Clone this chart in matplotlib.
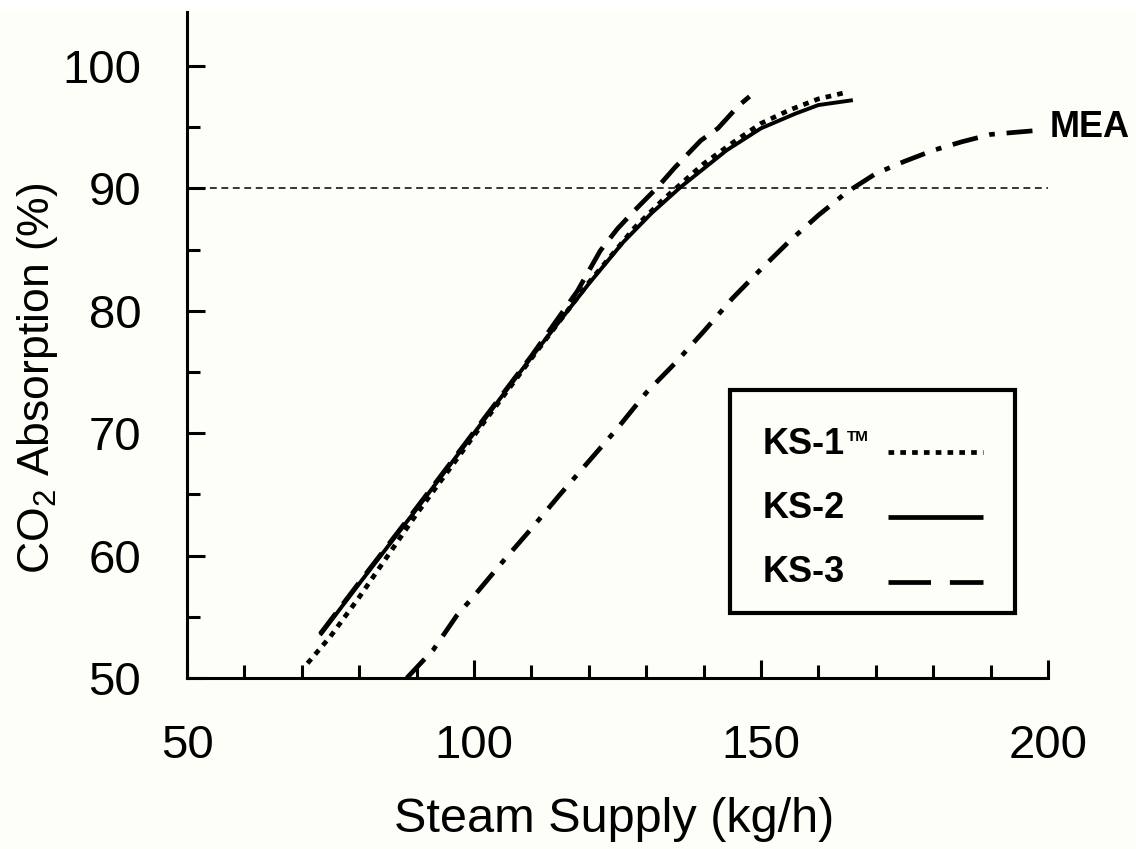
import matplotlib
matplotlib.use('Agg')
import matplotlib.pyplot as plt
from matplotlib.patches import Rectangle
from matplotlib.ticker import MultipleLocator

plt.rcParams['font.family'] = ['Liberation Sans', 'DejaVu Sans']
plt.rcParams['mathtext.fontset'] = 'custom'
plt.rcParams['mathtext.rm'] = 'Liberation Sans'
plt.rcParams['mathtext.default'] = 'regular'

ks1_x = [71, 75, 80, 85, 90, 100, 110, 120, 128, 133, 140, 145, 150, 155, 160, 164.5]
ks1_y = [51.2, 53.4, 56.6, 60.0, 63.4, 69.8, 76.1, 82.3, 86.8, 89.1, 92.0, 93.7, 95.3, 96.4, 97.3, 97.8]

ks2_x = [73.2, 80, 90, 100, 110, 120, 126, 131, 136, 140, 144, 150, 156, 160, 166]
ks2_y = [53.5, 57.7, 63.8, 70.0, 76.2, 82.2, 85.6, 88.0, 90.1, 91.6, 93.1, 94.9, 96.1, 96.8, 97.2]

ks3_x = [73.2, 80, 90, 100, 110, 118, 122, 125, 128, 132, 135, 139.5, 142.5, 146, 148]
ks3_y = [53.6, 57.8, 63.9, 70.1, 76.3, 81.6, 84.9, 86.7, 88.2, 90.1, 91.7, 93.9, 94.9, 96.7, 97.5]

mea_x = [88.3, 92.9, 97, 100, 105, 110, 115, 120, 125, 130, 135, 140, 145, 150, 155, 160,
         165, 170, 175, 180, 185, 190, 197.5]
mea_y = [50.0, 52.3, 55.1, 56.7, 59.5, 62.2, 65.0, 67.7, 70.4, 73.3, 75.7, 78.3, 81.0, 83.4,
         85.7, 87.8, 89.7, 91.2, 92.2, 93.1, 93.8, 94.4, 94.7]

target = 90
series_names = ['KS-1', 'KS-2', 'KS-3']
mea_name = 'MEA'
xticks = [50, 100, 150, 200]
yticks = [50, 60, 70, 80, 90, 100]

cream = '#fdfef8'
fig = plt.figure(figsize=(11.36, 8.49), dpi=100, facecolor='white')
fig.patches.append(Rectangle((0, 0), 1, 837 / 849, transform=fig.transFigure,
                             color=cream, zorder=-10))
ax = fig.add_axes([187 / 1136, 171 / 849, 861 / 1136, 666 / 849])
ax.set_facecolor(cream)

lw = 3.4
ax.axhline(target, color='black', lw=1.1, dashes=(4.5, 3))
ax.plot(ks1_x, ks1_y, color='black', lw=lw, dashes=(1.2, 1.3))
ax.plot(ks2_x, ks2_y, color='black', lw=2.8, solid_capstyle='butt')
ax.plot(ks3_x, ks3_y, color='black', lw=lw, dashes=(5.5, 2.5))
ax.plot(mea_x, mea_y, color='black', lw=lw, dashes=(5.5, 2.5, 1.2, 2.5))
ax.text(200.3, 95.0, mea_name, fontsize=26, fontweight='bold', ha='left', va='center',
        clip_on=False)

ax.set_xlim(50, 200)
ax.set_ylim(50, 104.4)
ax.set_xticks(xticks)
ax.set_yticks(yticks)
ax.xaxis.set_minor_locator(MultipleLocator(10))
ax.yaxis.set_minor_locator(MultipleLocator(5))
ax.tick_params(which='both', direction='in', width=2.2, labelsize=34, pad=33)
ax.tick_params(which='major', length=13)
ax.tick_params(which='minor', length=9.5)
for s in ['top', 'right']:
    ax.spines[s].set_visible(False)
for s in ['left', 'bottom']:
    ax.spines[s].set_linewidth(2.2)

ax.set_xlabel('Steam Supply (kg/h)', fontsize=35)
ax.set_ylabel('CO$_2$ Absorption (%)', fontsize=32)
ax.xaxis.set_label_coords(0.496, -0.179)
ax.yaxis.set_label_coords(-0.1475, 0.45)

# legend box drawn by hand so labels are left aligned and samples line up
ax.add_patch(Rectangle((0.6307, 0.0976), 0.331, 0.3348, transform=ax.transAxes,
                       fill=False, edgecolor='black', lw=3, zorder=5))
legend_text_y = [0.351, 0.255, 0.158]
legend_line_y = [0.339, 0.242, 0.144]
legend_dashes = [(1.2, 1.3), None, (9, 4)]
for i, (name, ty, ly, d) in enumerate(zip(series_names, legend_text_y, legend_line_y, legend_dashes)):
    t = ax.text(0.668, ty, name, transform=ax.transAxes, fontsize=26, fontweight='bold',
                ha='left', va='center')
    if i == 0:
        ax.annotate('TM', xy=(1, 0.92), xycoords=t, xytext=(2, 0), textcoords='offset points',
                    fontsize=11, fontweight='bold', ha='left', va='top')
    kw = dict(color='black', lw=lw, transform=ax.transAxes, solid_capstyle='butt')
    if d is not None:
        kw['dashes'] = d
    ax.plot([0.814, 0.925], [ly, ly], **kw)

fig.savefig('out.png', dpi=100, facecolor=fig.get_facecolor())
